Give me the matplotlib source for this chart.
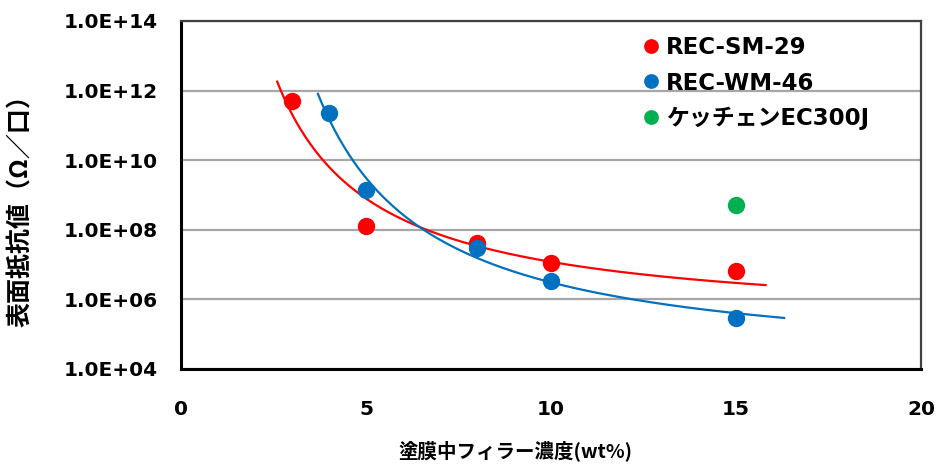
import numpy as np
import matplotlib
matplotlib.use("Agg")
import matplotlib.pyplot as plt
from matplotlib.ticker import FixedLocator, FuncFormatter

plt.rcParams['font.family'] = ['DejaVu Sans', 'Noto Sans CJK JP']
plt.rcParams['font.weight'] = 'bold'

# data
x_sm = [3, 5, 8, 10, 15]
y_sm = [5.0e11, 1.3e8, 4.3e7, 1.1e7, 6.6e6]
x_wm = [4, 5, 8, 10, 15]
y_wm = [2.2e11, 1.35e9, 3.1e7, 3.4e6, 2.9e5]
x_ec = [15]
y_ec = [5.0e8]
series_names = ['REC-SM-29', 'REC-WM-46', 'ケッチェンEC300J']
colors = ['#FF0000', '#0070C0', '#00B050']
curve_range_sm = (2.6, 15.8)
curve_range_wm = (3.7, 16.3)

xticks = [0, 5, 10, 15, 20]
yticks = [1e4, 1e6, 1e8, 1e10, 1e12, 1e14]

fig = plt.figure(figsize=(9.43, 4.66), dpi=100)
ax = fig.add_axes([181/943, 1-369/466, (921-181)/943, (369-21)/466])
ax.set_yscale('log')
ax.set_xlim(0, 20)
ax.set_ylim(1e4, 1e14)


def fit_curve(xs, ys, rng, deg):
    xs = np.asarray(xs, float)
    ly = np.log10(np.asarray(ys, float))
    coef = np.polyfit(1/xs, ly, deg)
    xx = np.linspace(rng[0], rng[1], 300)
    yy = 10 ** np.polyval(coef, 1/xx)
    return xx, yy


for xs, ys, rng, c, deg in [(x_sm, y_sm, curve_range_sm, colors[0], 1),
                            (x_wm, y_wm, curve_range_wm, colors[1], 2)]:
    xx, yy = fit_curve(xs, ys, rng, deg)
    ax.plot(xx, yy, color=c, lw=1.6, zorder=3)

for xs, ys, name, c in zip([x_sm, x_wm, x_ec], [y_sm, y_wm, y_ec], series_names, colors):
    ax.plot(xs, ys, 'o', ms=12.5, color=c, mec='none', label=name, zorder=4)

ax.yaxis.set_major_locator(FixedLocator(yticks))
ax.yaxis.set_minor_locator(FixedLocator([]))
ax.yaxis.set_major_formatter(FuncFormatter(lambda v, p: '1.0E+%02d' % int(round(np.log10(v)))))
ax.set_xticks(xticks)
ax.grid(axis='y', color='#A6A6A6', lw=1.6)
ax.set_axisbelow(True)
ax.tick_params(axis='both', length=0, labelsize=14.5)
ax.tick_params(axis='y', pad=17)
ax.tick_params(axis='x', pad=22)
for lab in ax.get_xticklabels() + ax.get_yticklabels():
    lab.set_fontweight('bold')

for s in ['left', 'bottom']:
    ax.spines[s].set_color('black')
    ax.spines[s].set_linewidth(2.2)
for s in ['top', 'right']:
    ax.spines[s].set_color('#404040')
    ax.spines[s].set_linewidth(1.6)

fig.text(21/943, 1-205/466, '表面抵抗値（Ω／口）', rotation=90, ha='center', va='center',
         fontsize=18, fontweight='bold', family=['Noto Sans CJK JP', 'DejaVu Sans'])
fig.text(515/943, 1-451/466, '塗膜中フィラー濃度(wt%)', ha='center', va='center',
         fontsize=14, fontweight='bold', family=['Noto Sans CJK JP', 'DejaVu Sans'])

leg = ax.legend(loc='upper left', bbox_to_anchor=(0.6, 1.0), frameon=False,
                handletextpad=0.15, handlelength=1.0, markerscale=0.85,
                fontsize=16.5, labelspacing=0.55, borderaxespad=0.25)
for t in leg.get_texts():
    t.set_fontweight('bold')

fig.savefig('out.png', dpi=100)
